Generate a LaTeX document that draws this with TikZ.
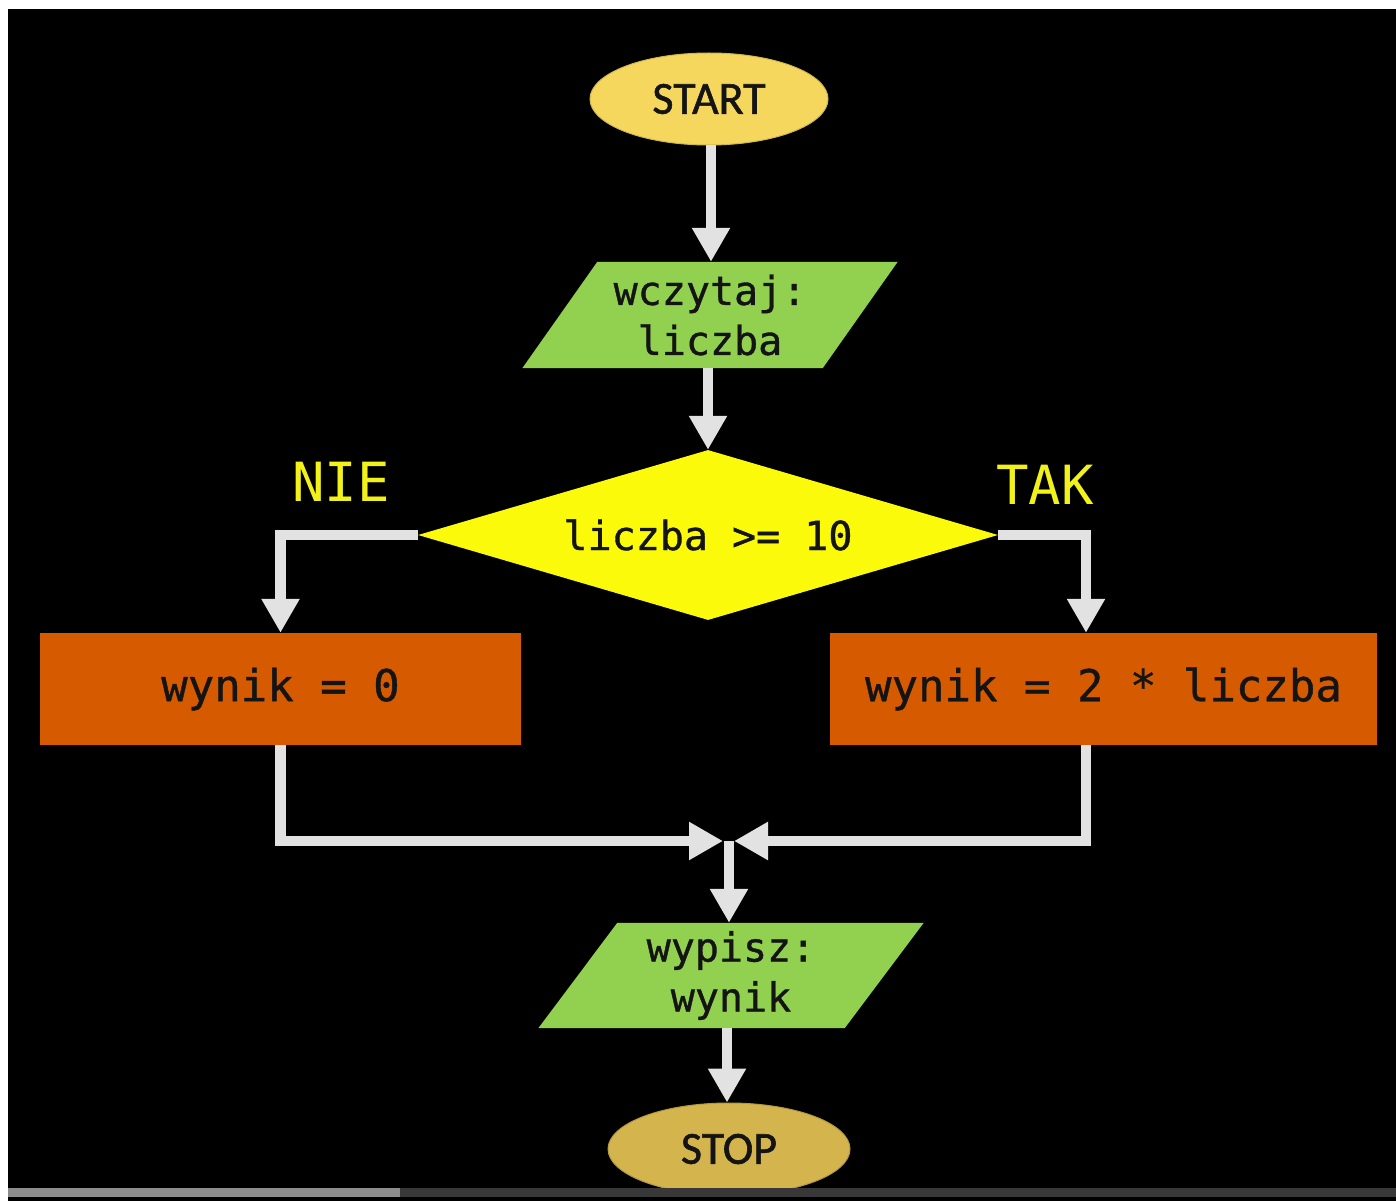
\documentclass[tikz,border=0pt]{standalone}
\usepackage{fontspec}
\usetikzlibrary{shapes.geometric,arrows.meta,calc}
\newfontfamily\monof[FakeBold=0.9]{DejaVu Sans Mono}
\newfontfamily\labelf{DejaVu Sans Mono}
\newfontfamily\capf[FakeBold=1.2]{Carlito}
\definecolor{arrowgrey}{HTML}{E2E2E2}
\definecolor{startgold}{HTML}{F6D75E}
\definecolor{stopgold}{HTML}{D4B44C}
\definecolor{iogreen}{HTML}{92D050}
\definecolor{decyellow}{HTML}{FAFA0A}
\definecolor{procorange}{HTML}{D65A00}
\definecolor{txtdark}{HTML}{141414}
\definecolor{labelyellow}{HTML}{F2F21A}
\definecolor{barlight}{HTML}{8C8C8C}
\definecolor{bardark}{HTML}{383838}
\pgfdeclarelayer{bg}
\pgfsetlayers{bg,main}
\begin{document}
\begin{tikzpicture}[x=1pt,y=-1pt,
  conn/.style={draw=arrowgrey, line width=10.5pt, -{Triangle[width=36pt,length=34pt]}},
  term/.style={ellipse, inner sep=0pt, text=txtdark, font=\capf\fontsize{46}{52}\selectfont},
  io/.style={rectangle, inner sep=0pt, minimum height=106pt, align=center, text=txtdark, font=\monof\fontsize{40}{50}\selectfont},
  proc/.style={rectangle, fill=procorange, inner sep=0pt, minimum height=112pt, text=txtdark, font=\monof\fontsize{44}{50}\selectfont},
  decision/.style={diamond, aspect=3.4, fill=decyellow, inner sep=0pt, minimum width=580pt, minimum height=170pt, text=txtdark, font=\monof\fontsize{40}{48}\selectfont},
  branch/.style={text=labelyellow, font=\labelf\fontsize{54}{60}\selectfont, inner sep=0pt}
]
\useasboundingbox (0,0) rectangle (1396,1201);
\begin{pgfonlayer}{bg}
\fill[white] (0,0) rectangle (1396,1201);
\fill[black] (8,9) rectangle (1396,1201);
\end{pgfonlayer}

\node[term, fill=startgold, draw=startgold!85!black, line width=1pt, minimum width=238pt, minimum height=92pt] (start) at (709,99) {START};
\node[io, minimum width=300pt] (read) at (710,315) {wczytaj:\\liczba};
\node[decision] (cond) at (708,535) {liczba >= 10};
\node[proc, minimum width=481pt] (no) at (280.5,689) {wynik = 0};
\node[proc, minimum width=547pt] (yes) at (1103.5,689) {wynik = 2 * liczba};
\node[io, minimum width=306pt, minimum height=105pt] (out) at (731,975.5) {wypisz:\\wynik};
\node[term, fill=stopgold, draw=stopgold!85!black, line width=1pt, minimum width=242pt, minimum height=92pt] (stop) at (729,1149) {STOP};
\node[branch] (nie) at (341,482) {NIE};
\node[branch] (tak) at (1045,485) {TAK};
\coordinate (m) at (729,841);

\begin{pgfonlayer}{bg}
\fill[iogreen] ([xshift=37.5pt]read.north west) -- ([xshift=37.5pt]read.north east) -- ([xshift=-37.5pt]read.south east) -- ([xshift=-37.5pt]read.south west) -- cycle;
\fill[iogreen] ([xshift=39.5pt]out.north west) -- ([xshift=39.5pt]out.north east) -- ([xshift=-39.5pt]out.south east) -- ([xshift=-39.5pt]out.south west) -- cycle;
\end{pgfonlayer}

\draw[conn] ([xshift=2pt]start.south) -- ([xshift=2pt]start.south |- read.north);
\draw[conn] (read.south -| cond.north) -- (cond.north);
\draw[conn] (cond.west) -| (no.north);
\draw[conn] (cond.east) -| ([xshift=-17.5pt]yes.north);
\draw[conn, shorten >=6pt] (no.south) |- (m);
\draw[conn, shorten >=5pt] ([xshift=-17.5pt]yes.south) |- (m);
\draw[conn] (m) -- (m |- out.north);
\draw[conn] ([xshift=-2pt]out.south -| stop.north) -- ([xshift=-2pt]stop.north);

\fill[barlight] (8,1188) rectangle (400,1197);
\fill[bardark] (400,1188) rectangle (1396,1197);
\end{tikzpicture}
\end{document}
